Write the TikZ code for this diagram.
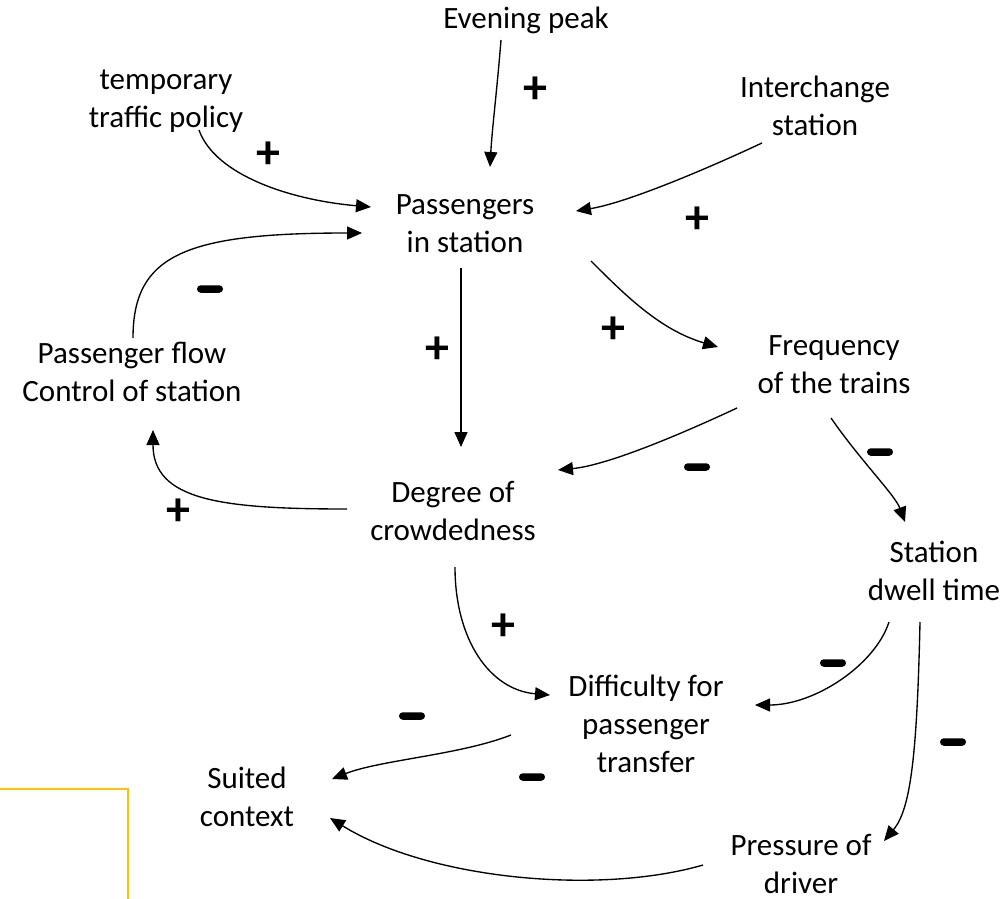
\documentclass[tikz,border=0pt]{standalone}
\usepackage{fontspec}
\setmainfont{Carlito}
\usetikzlibrary{arrows.meta}
\begin{document}
\begin{tikzpicture}[x=1pt,y=-1pt,
  var/.style={align=center, inner sep=0pt, font=\fontsize{31}{38}\selectfont},
  arr/.style={line width=1.35pt, -{Triangle[length=15pt,width=13pt]}},
  plussign/.style={inner sep=0pt, font=\fontsize{48}{48}\selectfont\bfseries},
  minussign/.style={fill=black, rounded corners=3.7pt, minimum width=26pt, minimum height=7.5pt, inner sep=0pt},
  frame/.style={draw=gold, line width=1.5pt}]
\definecolor{gold}{HTML}{FFC000}
\useasboundingbox (0,0) rectangle (1007,899);

% variables
\node[var] (ep) at (526,20)  {Evening peak};
\node[var] (tp) at (166,101) {temporary\\traffic policy};
\node[var] (ic) at (815,106) {Interchange\\station};
\node[var] (ps) at (465,224) {Passengers\\in station};
\node[var] (pf) at (132,372) {Passenger flow\\Control of station};
\node[var] (ft) at (834,365) {Frequency\\of the trains};
\node[var] (dc) at (453,511) {Degree of\\crowdedness};
\node[var] (sd) at (934,571) {Station\\dwell time};
\node[var] (df) at (646,724) {Difficulty for\\passenger\\transfer};
\node[var] (sc) at (247,797) {Suited\\context};
\node[var] (pd) at (801,864) {Pressure of\\driver};

% connector end points
\coordinate (ep-o) at (501,40);   \coordinate (ps-i1) at (490,167);
\coordinate (tp-o) at (199,130);  \coordinate (ps-i2) at (371,207);
\coordinate (ic-o) at (762,143);  \coordinate (ps-i3) at (576,211);
\coordinate (pf-o) at (133,338);  \coordinate (ps-i4) at (362,233);
\coordinate (ps-o1) at (461,268); \coordinate (dc-i1) at (461,447);
\coordinate (ps-o2) at (591,261); \coordinate (ft-i) at (718,347);
\coordinate (ft-o1) at (737,408); \coordinate (dc-i2) at (558,470);
\coordinate (ft-o2) at (831,418); \coordinate (sd-i) at (905,522);
\coordinate (dc-o1) at (347,509); \coordinate (pf-i) at (153,430);
\coordinate (dc-o2) at (455,567); \coordinate (df-i1) at (550,695);
\coordinate (sd-o1) at (889,622); \coordinate (df-i2) at (755,705);
\coordinate (sd-o2) at (920,622); \coordinate (pd-i) at (884,841);
\coordinate (df-o) at (511,735);  \coordinate (sc-i1) at (332,779);
\coordinate (pd-o) at (703,865);  \coordinate (sc-i2) at (330,818);

% causal links
\draw[arr] (ep-o) .. controls (497,90) and (492,130) .. (ps-i1);
\draw[arr] (tp-o) .. controls (215,175) and (290,200) .. (ps-i2);
\draw[arr] (ic-o) .. controls (700,172) and (625,203) .. (ps-i3);
\draw[arr] (pf-o) .. controls (133,255) and (185,233) .. (ps-i4);
\draw[arr] (ps-o1) -- (dc-i1);
\draw[arr] (ps-o2) .. controls (625,295) and (660,330) .. (ft-i);
\draw[arr] (ft-o1) .. controls (690,430) and (610,465) .. (dc-i2);
\draw[arr] (ft-o2) .. controls (860,460) and (895,495) .. (sd-i);
\draw[arr] (dc-o1) .. controls (220,509) and (153,500) .. (pf-i);
\draw[arr] (dc-o2) .. controls (455,640) and (490,690) .. (df-i1);
\draw[arr] (sd-o1) .. controls (875,665) and (815,705) .. (df-i2);
\draw[arr] (sd-o2) .. controls (917,760) and (910,810) .. (pd-i);
\draw[arr] (df-o) .. controls (460,755) and (380,760) .. (sc-i1);
\draw[arr] (pd-o) .. controls (600,895) and (430,880) .. (sc-i2);

% polarities
\node[plussign] (s1) at (535,90) {+};
\node[plussign] (s2) at (268,155) {+};
\node[plussign] (s3) at (697,220) {+};
\node[minussign] (s4) at (210,289) {};
\node[plussign] (s5) at (437,350) {+};
\node[plussign] (s6) at (613,330) {+};
\node[minussign] (s7) at (697,467) {};
\node[minussign] (s8) at (880,452) {};
\node[plussign] (s9) at (178,512) {+};
\node[plussign] (s10) at (503,627) {+};
\node[minussign] (s11) at (833,663) {};
\node[minussign] (s12) at (953,742) {};
\node[minussign] (s13) at (412,716) {};
\node[minussign] (s14) at (532,777) {};

% corner frame
\draw[frame] (0,789) -- (128,789) -- (128,899);
\end{tikzpicture}
\end{document}
